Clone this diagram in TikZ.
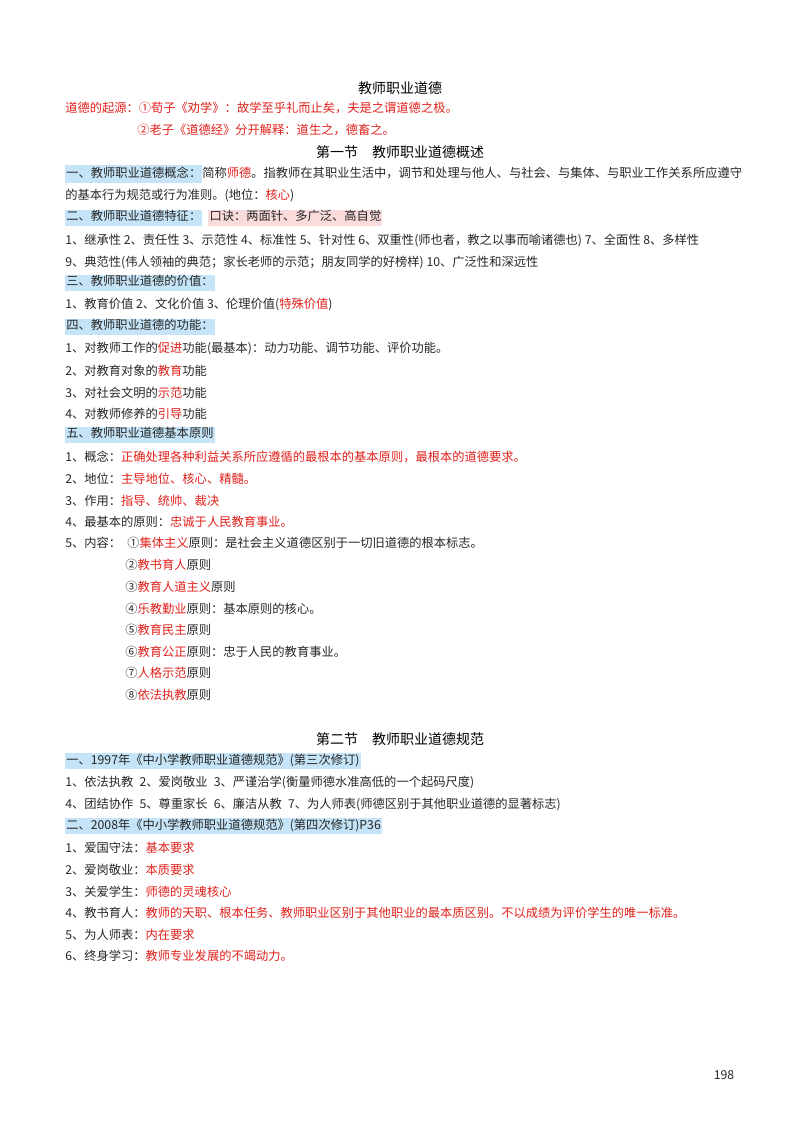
\documentclass[tikz,border=0pt]{standalone}
\usepackage{fontspec}
\setmainfont{Noto Sans CJK SC}
\definecolor{hblue}{HTML}{C5E4F7}
\definecolor{hpink}{HTML}{FADCDC}
\definecolor{rd}{HTML}{E0201B}
\newcommand{\hb}[1]{{\setlength\fboxsep{0.8pt}\colorbox{hblue}{\strut #1}}}
\newcommand{\hp}[1]{{\setlength\fboxsep{0.8pt}\colorbox{hpink}{\strut #1}}}
\newcommand{\rr}[1]{\textcolor{rd}{#1}}
\tikzset{ln/.style={anchor=west,inner sep=0pt,font=\fontsize{9.2}{11}\selectfont,text=black!85},
 ttl/.style={anchor=center,inner sep=0pt,font=\fontsize{10.5}{12}\selectfont}}
\begin{document}
\begin{tikzpicture}[x=0.75pt,y=-0.75pt]
\useasboundingbox (0,0) rectangle (800,1130);
\node[ttl] (t) at (400,88) {教师职业道德};
\node[ln,text=rd] (o1) at (65,108) {道德的起源：①荀子《劝学》：故学至乎礼而止矣，夫是之谓道德之极。};
\node[ln,text=rd] (o2) at (137,130) {②老子《道德经》分开解释：道生之，德畜之。};
\node[ttl] (s1) at (400,152) {第一节\quad 教师职业道德概述};
\node[ln] (a1) at (65,174) {\hb{一、教师职业道德概念：}简称\rr{师德}。指教师在其职业生活中，调节和处理与他人、与社会、与集体、与职业工作关系所应遵守};
\node[ln] (a2) at (65,196) {的基本行为规范或行为准则。(地位：\rr{核心})};
\node[ln] (b1) at (65,218) {\hb{二、教师职业道德特征：}\enspace\hp{口诀：两面针、多广泛、高自觉}};
\node[ln] (b2) at (65,240) {1、继承性 2、责任性 3、示范性 4、标准性 5、针对性 6、双重性(师也者，教之以事而喻诸德也) 7、全面性 8、多样性};
\node[ln] (b3) at (65,262) {9、典范性(伟人领袖的典范；家长老师的示范；朋友同学的好榜样) 10、广泛性和深远性};
\node[ln] (c1) at (65,283) {\hb{三、教师职业道德的价值：}};
\node[ln] (c2) at (65,305) {1、教育价值 2、文化价值 3、伦理价值(\rr{特殊价值})};
\node[ln] (d1) at (65,327) {\hb{四、教师职业道德的功能：}};
\node[ln] (d2) at (65,349) {1、对教师工作的\rr{促进}功能(最基本)：动力功能、调节功能、评价功能。};
\node[ln] (d3) at (65,371) {2、对教育对象的\rr{教育}功能};
\node[ln] (d4) at (65,393) {3、对社会文明的\rr{示范}功能};
\node[ln] (d5) at (65,414) {4、对教师修养的\rr{引导}功能};
\node[ln] (e1) at (65,435) {\hb{五、教师职业道德基本原则}};
\node[ln] (e2) at (65,457) {1、概念：\rr{正确处理各种利益关系所应遵循的最根本的基本原则，最根本的道德要求。}};
\node[ln] (e3) at (65,479) {2、地位：\rr{主导地位、核心、精髓。}};
\node[ln] (e4) at (65,501) {3、作用：\rr{指导、统帅、裁决}};
\node[ln] (e5) at (65,522) {4、最基本的原则：\rr{忠诚于人民教育事业。}};
\node[ln] (e6) at (65,543) {5、内容：\enspace ①\rr{集体主义}原则：是社会主义道德区别于一切旧道德的根本标志。};
\node[ln] (e7) at (125,565) {②\rr{教书育人}原则};
\node[ln] (e8) at (125,587) {③\rr{教育人道主义}原则};
\node[ln] (e9) at (125,609) {④\rr{乐教勤业}原则：基本原则的核心。};
\node[ln] (e10) at (125,630) {⑤\rr{教育民主}原则};
\node[ln] (e11) at (125,652) {⑥\rr{教育公正}原则：忠于人民的教育事业。};
\node[ln] (e12) at (125,673) {⑦\rr{人格示范}原则};
\node[ln] (e13) at (125,695) {⑧\rr{依法执教}原则};
\node[ttl] (s2) at (400,739) {第二节\quad 教师职业道德规范};
\node[ln] (f1) at (65,761) {\hb{一、1997年《中小学教师职业道德规范》(第三次修订)}};
\node[ln] (f2) at (65,782) {1、依法执教\enspace 2、爱岗敬业\enspace 3、严谨治学(衡量师德水准高低的一个起码尺度)};
\node[ln] (f3) at (65,804) {4、团结协作\enspace 5、尊重家长\enspace 6、廉洁从教\enspace 7、为人师表(师德区别于其他职业道德的显著标志)};
\node[ln] (g1) at (65,826) {\hb{二、2008年《中小学教师职业道德规范》(第四次修订)P36}};
\node[ln] (g2) at (65,848) {1、爱国守法：\rr{基本要求}};
\node[ln] (g3) at (65,870) {2、爱岗敬业：\rr{本质要求}};
\node[ln] (g4) at (65,892) {3、关爱学生：\rr{师德的灵魂核心}};
\node[ln] (g5) at (65,913) {4、教书育人：\rr{教师的天职、根本任务、教师职业区别于其他职业的最本质区别。不以成绩为评价学生的唯一标准。}};
\node[ln] (g6) at (65,935) {5、为人师表：\rr{内在要求}};
\node[ln] (g7) at (65,956) {6、终身学习：\rr{教师专业发展的不竭动力。}};
\node[ln,anchor=center] (pg) at (724,1075) {198};
\end{tikzpicture}
\end{document}
